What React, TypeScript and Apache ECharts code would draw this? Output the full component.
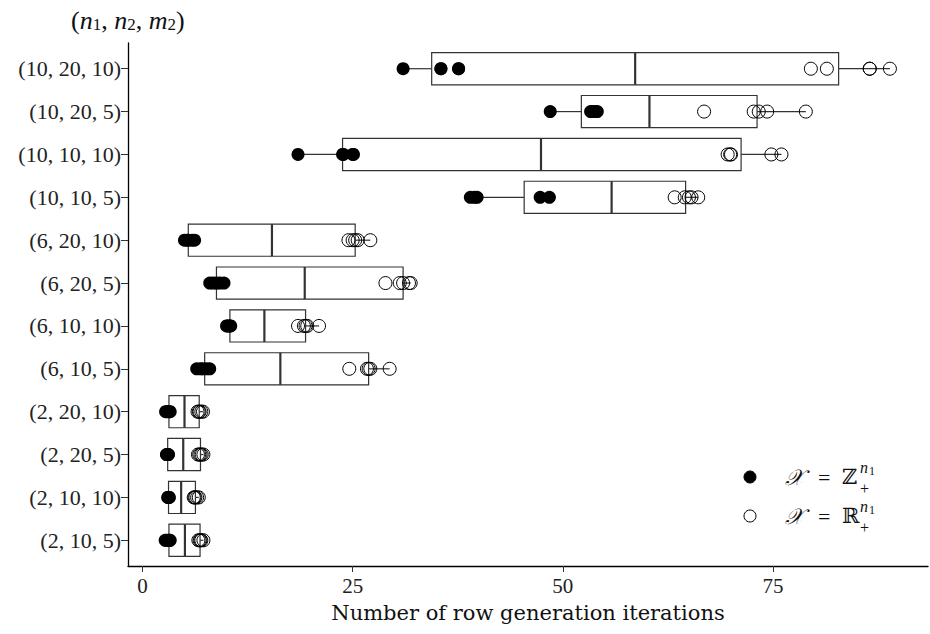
import React, { useEffect, useRef } from "react";
import * as echarts from "echarts";

// Categories, bottom to top (n1, n2, m2)
const categories: string[] = [
  "(2, 10, 5)",
  "(2, 10, 10)",
  "(2, 20, 5)",
  "(2, 20, 10)",
  "(6, 10, 5)",
  "(6, 10, 10)",
  "(6, 20, 5)",
  "(6, 20, 10)",
  "(10, 10, 5)",
  "(10, 10, 10)",
  "(10, 20, 5)",
  "(10, 20, 10)",
];

// Box statistics
const boxMin: number[] = [2.7, 3.0, 2.85, 2.75, 6.45, 10.0, 8.0, 5.0, 39.0, 18.5, 48.5, 31.0];
const boxQ1: number[] = [3.15, 3.1, 3.0, 3.15, 7.4, 10.4, 8.8, 5.45, 45.4, 23.8, 52.2, 34.4];
const boxMedian: number[] = [5.05, 4.6, 4.85, 5.0, 16.4, 14.5, 19.3, 15.4, 55.8, 47.4, 60.3, 58.6];
const boxQ3: number[] = [6.85, 6.3, 6.9, 6.75, 26.9, 19.4, 31.0, 25.3, 64.6, 71.2, 73.1, 82.8];
const boxMax: number[] = [7.25, 6.7, 7.25, 7.2, 29.4, 21.0, 31.9, 27.1, 66.1, 76.0, 78.9, 88.9];

// Points for X = Z_+^{n1} (filled)
const zPoints: number[][] = [
  [2.7, 2.9, 3.1, 3.2, 3.3],
  [3.0, 3.05, 3.1, 3.15, 3.2],
  [2.85, 2.9, 3.0, 3.05, 3.1],
  [2.75, 2.9, 3.1, 3.2, 3.3],
  [6.45, 6.9, 7.2, 7.6, 8.0],
  [10.0, 10.1, 10.3, 10.4, 10.5],
  [8.0, 8.4, 8.8, 9.2, 9.7],
  [5.0, 5.3, 5.5, 5.9, 6.2],
  [39.0, 39.5, 39.8, 47.3, 48.4],
  [18.5, 23.8, 23.9, 25.0, 25.1],
  [48.5, 53.3, 53.5, 53.8, 54.1],
  [31.0, 35.5, 35.5, 37.6, 37.6],
];

// Points for X = R_+^{n1} (open)
const rPoints: number[][] = [
  [6.65, 6.8, 6.9, 7.0, 7.25],
  [6.1, 6.2, 6.3, 6.5, 6.7],
  [6.6, 6.75, 6.9, 7.05, 7.25],
  [6.55, 6.7, 6.8, 7.0, 7.2],
  [24.6, 26.7, 26.9, 27.1, 29.4],
  [18.5, 19.2, 19.4, 19.6, 21.0],
  [28.9, 30.6, 31.0, 31.7, 31.9],
  [24.5, 25.0, 25.3, 25.6, 27.1],
  [63.3, 64.5, 65.0, 65.3, 66.1],
  [69.6, 69.9, 70.0, 74.8, 76.0],
  [66.8, 72.7, 73.3, 74.3, 78.9],
  [79.5, 81.4, 86.5, 86.5, 88.9],
];

const xTicks: number[] = [0, 25, 50, 75];
const yTicks: number[] = categories.map((_, i) => i + 1);

const SERIF = "'Liberation Serif', 'DejaVu Serif', serif";
const MATH = "'DejaVu Serif', 'DejaVu Sans', serif";

export default function App() {
  const ref = useRef<HTMLDivElement>(null);

  useEffect(() => {
    if (!ref.current) return;
    const chart = echarts.init(ref.current, undefined, { renderer: "svg" });

    const boxData = categories.map((_, i) => [
      i + 1,
      boxMin[i],
      boxQ1[i],
      boxMedian[i],
      boxQ3[i],
      boxMax[i],
    ]);
    const zData: number[][] = [];
    zPoints.forEach((arr, i) => arr.forEach((v) => zData.push([v, i + 1])));
    const rData: number[][] = [];
    rPoints.forEach((arr, i) => arr.forEach((v) => rData.push([v, i + 1])));

    const legendRow = (y: number, filled: boolean, letter: string) => ({
      type: "group",
      children: [
        {
          type: "circle",
          shape: { cx: 750, cy: y, r: 6 },
          style: filled
            ? { fill: "#000", stroke: "#000", lineWidth: 1 }
            : { fill: "none", stroke: "#000", lineWidth: 1 },
        },
        {
          type: "text",
          x: 785,
          y: y,
          style: {
            text: "\u{1D4B3}",
            font: `italic 22px ${MATH}`,
            fill: "#111",
            verticalAlign: "middle",
          },
        },
        {
          type: "text",
          x: 818,
          y: y,
          style: { text: "=", font: `22px ${SERIF}`, fill: "#111", verticalAlign: "middle" },
        },
        {
          type: "text",
          x: 842,
          y: y,
          style: { text: letter, font: `21px ${MATH}`, fill: "#111", verticalAlign: "middle" },
        },
        {
          type: "text",
          x: 860,
          y: y - 10,
          style: { text: "n", font: `italic 16px ${SERIF}`, fill: "#111", verticalAlign: "middle" },
        },
        {
          type: "text",
          x: 869,
          y: y - 6,
          style: { text: "1", font: `12px ${SERIF}`, fill: "#111", verticalAlign: "middle" },
        },
        {
          type: "text",
          x: 860,
          y: y + 11,
          style: { text: "+", font: `16px ${SERIF}`, fill: "#111", verticalAlign: "middle" },
        },
      ],
    });

    chart.setOption({
      animation: false,
      backgroundColor: "#fff",
      title: {
        text: "{p|(}{i|n}{s|1}{p|, }{i|n}{s|2}{p|, }{i|m}{s|2}{p|)}",
        left: 66,
        top: -4,
        textStyle: {
          fontWeight: "normal",
          rich: {
            p: { fontFamily: SERIF, fontWeight: "normal", fontSize: 26, color: "#111", lineHeight: 32, verticalAlign: "bottom" },
            i: { fontFamily: SERIF, fontWeight: "normal", fontStyle: "italic", fontSize: 26, color: "#111", lineHeight: 32, verticalAlign: "bottom" },
            s: { fontFamily: SERIF, fontWeight: "normal", fontSize: 17, color: "#111", lineHeight: 16, verticalAlign: "bottom" },
          },
        },
      },
      grid: { left: 128, right: 2, top: 43, bottom: 68, containLabel: false },
      xAxis: {
        type: "value",
        min: -1.72,
        max: 93.43,
        name: "Number of row generation iterations",
        nameLocation: "middle",
        nameGap: 36,
        nameTextStyle: { fontFamily: MATH, fontSize: 21, color: "#111" },
        axisLine: { show: true, onZero: false, lineStyle: { color: "#000", width: 1.3 } },
        axisTick: { show: true, customValues: xTicks, length: 6, lineStyle: { color: "#333", width: 1 } },
        axisLabel: {
          customValues: xTicks,
          fontFamily: SERIF,
          fontSize: 21,
          color: "#222",
          margin: 9,
        },
        splitLine: { show: false },
      },
      yAxis: {
        type: "value",
        min: 0.4,
        max: 12.6,
        axisLine: { show: true, onZero: false, lineStyle: { color: "#000", width: 1.3 } },
        axisTick: { show: true, customValues: yTicks, length: 7, lineStyle: { color: "#333", width: 1 } },
        axisLabel: {
          customValues: yTicks,
          formatter: (v: number) => categories[Math.round(v) - 1] ?? "",
          fontFamily: SERIF,
          fontSize: 22,
          color: "#222",
          margin: 7,
        },
        splitLine: { show: false },
      },
      series: [
        {
          type: "custom",
          name: "box",
          z: 1,
          encode: { x: [1, 2, 3, 4, 5], y: 0 },
          data: boxData,
          renderItem: (params: any, api: any) => {
            const y = api.value(0);
            const pMin = api.coord([api.value(1), y]);
            const pQ1 = api.coord([api.value(2), y]);
            const pMed = api.coord([api.value(3), y]);
            const pQ3 = api.coord([api.value(4), y]);
            const pMax = api.coord([api.value(5), y]);
            const h = api.size([0, 0.75])[1];
            const top = pQ1[1] - h / 2;
            const st = { stroke: "#333", lineWidth: 1.2 };
            return {
              type: "group",
              children: [
                { type: "line", shape: { x1: pMin[0], y1: pMin[1], x2: pQ1[0], y2: pQ1[1] }, style: st },
                { type: "line", shape: { x1: pQ3[0], y1: pQ3[1], x2: pMax[0], y2: pMax[1] }, style: st },
                {
                  type: "rect",
                  shape: { x: pQ1[0], y: top, width: pQ3[0] - pQ1[0], height: h },
                  style: { fill: "#fff", stroke: "#333", lineWidth: 1.2 },
                },
                {
                  type: "line",
                  shape: { x1: pMed[0], y1: top, x2: pMed[0], y2: top + h },
                  style: { stroke: "#333", lineWidth: 2.2 },
                },
              ],
            };
          },
        },
        {
          type: "scatter",
          name: "Z",
          z: 3,
          symbol: "circle",
          symbolSize: 13,
          itemStyle: { color: "#000", opacity: 1 },
          data: zData,
        },
        {
          type: "scatter",
          name: "R",
          z: 3,
          symbol: "circle",
          symbolSize: 13,
          itemStyle: { color: "rgba(0,0,0,0)", borderColor: "#000", borderWidth: 1, opacity: 1 },
          data: rData,
        },
      ],
      graphic: [legendRow(477, true, "\u2124"), legendRow(516, false, "\u211D")],
    });

    return () => chart.dispose();
  }, []);

  return (
    <div
      ref={ref}
      style={{ position: "fixed", left: 0, top: 0, width: 930, height: 634 }}
    />
  );
}
